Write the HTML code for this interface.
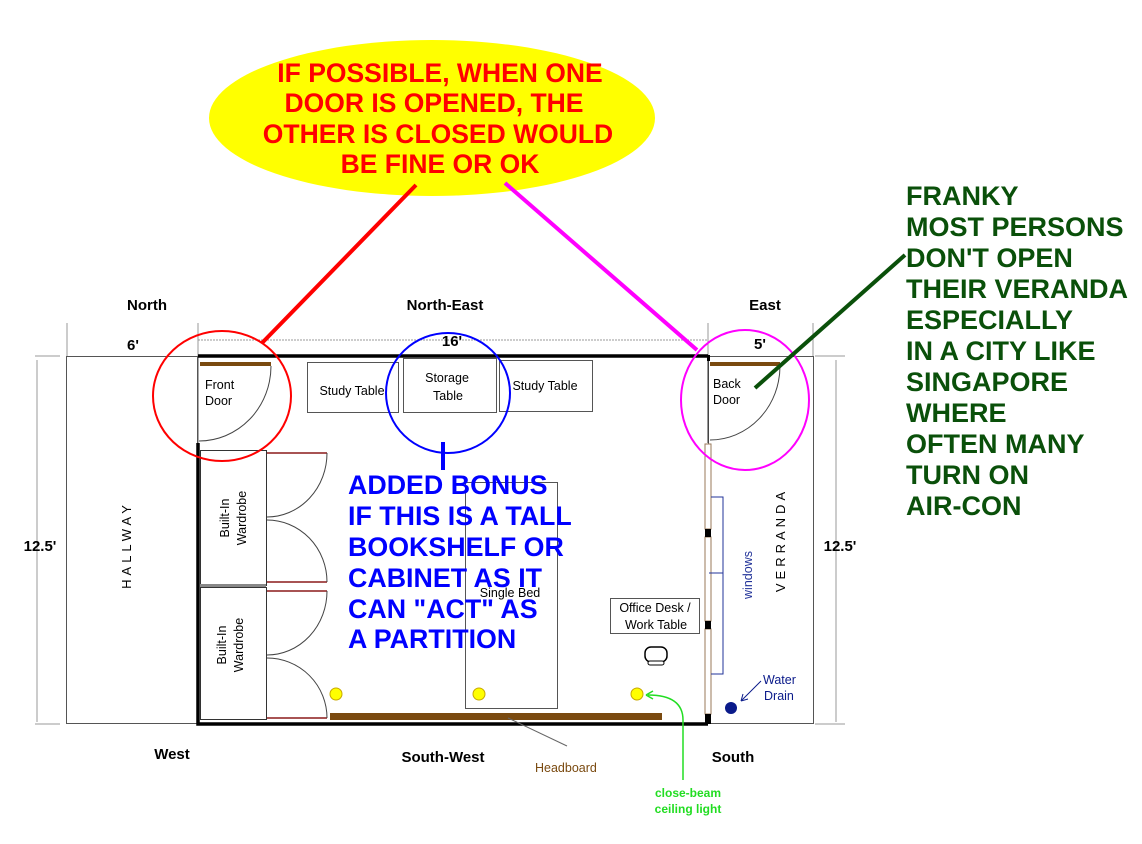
<!DOCTYPE html>
<html><head><meta charset="utf-8"><style>
html,body{margin:0;padding:0;background:#fff;}
svg{display:block;}
text{font-family:"Liberation Sans",Arial,sans-serif;}
</style></head><body>
<svg width="1142" height="844" viewBox="0 0 1142 844" xmlns="http://www.w3.org/2000/svg">
<rect width="1142" height="844" fill="#fff"/>
<ellipse cx="432" cy="118" rx="223" ry="78" fill="#ffff00"/>
<g fill="#ff0000" font-weight="bold" font-size="26.5" text-anchor="middle">
<text x="440" y="82">IF POSSIBLE, WHEN ONE</text>
<text x="434" y="112">DOOR IS OPENED, THE</text>
<text x="438" y="143">OTHER IS CLOSED WOULD</text>
<text x="440" y="173">BE FINE OR OK</text>
</g>
<g stroke="#999" stroke-width="1" fill="none">
<line x1="67" y1="323" x2="67" y2="356"/>
<line x1="198" y1="323" x2="198" y2="356"/>
<line x1="708" y1="323" x2="708" y2="356"/>
<line x1="813" y1="323" x2="813" y2="356"/>
<line x1="198" y1="340" x2="708" y2="340" stroke-dasharray="2,1"/>
<line x1="37" y1="360" x2="37" y2="722"/>
<line x1="35" y1="356" x2="60" y2="356"/>
<line x1="35" y1="724" x2="60" y2="724"/>
<line x1="836" y1="360" x2="836" y2="722"/>
<line x1="815" y1="356" x2="845" y2="356"/>
<line x1="815" y1="724" x2="845" y2="724"/>
</g>
<g stroke="#555" stroke-width="1" fill="none">
<rect x="66.5" y="356.5" width="131" height="367"/>
<rect x="708.5" y="356.5" width="105" height="367"/>
<line x1="198" y1="356" x2="198" y2="443"/>
</g>
<g stroke="#000" stroke-width="3.5" fill="none">
<polyline points="198,443 198,724 708,724"/>
<line x1="198" y1="356" x2="708" y2="356"/>
</g>
<rect x="200" y="362" width="71" height="4" fill="#7a4a10"/>
<path d="M271,366 A72,75 0 0 1 199,441" stroke="#444" fill="none"/>
<text x="205" y="389" font-size="12.5">Front</text>
<text x="205" y="405" font-size="12.5">Door</text>
<g stroke="#333" fill="none" stroke-width="1">
<rect x="200.5" y="450.5" width="66" height="135"/>
<rect x="200.5" y="587.5" width="66" height="132"/>
</g>
<rect x="200" y="584" width="66" height="3" fill="#888"/>
<g stroke="#8b1a1a" stroke-width="1.5">
<line x1="267" y1="453" x2="327" y2="453"/>
<line x1="267" y1="582" x2="327" y2="582"/>
<line x1="267" y1="591" x2="327" y2="591"/>
<line x1="267" y1="718" x2="327" y2="718"/>
</g>
<g stroke="#444" fill="none">
<path d="M327,453 A60,64 0 0 1 267,517"/>
<path d="M267,520 A60,62 0 0 1 327,582"/>
<path d="M327,591 A60,64 0 0 1 267,655"/>
<path d="M267,658 A60,60 0 0 1 327,718"/>
</g>
<g font-size="12.5" text-anchor="middle">
<text transform="translate(229,518) rotate(-90)">Built-In</text>
<text transform="translate(246,518) rotate(-90)">Wardrobe</text>
<text transform="translate(226,645) rotate(-90)">Built-In</text>
<text transform="translate(243,645) rotate(-90)">Wardrobe</text>
</g>
<text transform="translate(131,545) rotate(-90)" font-size="13" text-anchor="middle" letter-spacing="4">HALLWAY</text>
<g stroke="#555" fill="none">
<rect x="307.5" y="362.5" width="91" height="50"/>
<rect x="403.5" y="358.5" width="93" height="54"/>
<rect x="499.5" y="360.5" width="93" height="51"/>
<rect x="465.5" y="482.5" width="92" height="226"/>
<rect x="610.5" y="598.5" width="89" height="35"/>
</g>
<g font-size="12.5" text-anchor="middle">
<text x="352" y="395">Study Table</text>
<text x="447" y="382">Storage</text>
<text x="448" y="400">Table</text>
<text x="545" y="390">Study Table</text>
<text x="510" y="597">Single Bed</text>
<text x="655" y="612">Office Desk /</text>
<text x="656" y="629">Work Table</text>
</g>
<rect x="645" y="647" width="22" height="15" rx="6" stroke="#000" fill="#fff" stroke-width="1.5"/>
<rect x="648" y="661" width="16" height="4" rx="2" stroke="#000" fill="#fff"/>
<rect x="330" y="713" width="332" height="7" fill="#7a4a10"/>
<line x1="508" y1="718" x2="567" y2="746" stroke="#666"/>
<text x="535" y="772" font-size="12.5" fill="#7a4a10">Headboard</text>
<g fill="#ffff00" stroke="#c8a800">
<circle cx="336" cy="694" r="6"/>
<circle cx="479" cy="694" r="6"/>
<circle cx="637" cy="694" r="6"/>
</g>
<path d="M683,780 L683,720 Q683,695 648,695" stroke="#22dd22" stroke-width="1.5" fill="none"/>
<path d="M646,695 l7,-4 M646,695 l7,4" stroke="#22dd22" stroke-width="1.5"/>
<g fill="#22dd22" font-size="12" font-weight="bold" text-anchor="middle">
<text x="688" y="797">close-beam</text>
<text x="688" y="813">ceiling light</text>
</g>
<line x1="708" y1="356" x2="708" y2="443" stroke="#333"/>
<rect x="707" y="355" width="3" height="6" fill="#000"/>
<g fill="#fff" stroke="#9a7a5a">
<rect x="705" y="444" width="6" height="85"/>
<rect x="705" y="537" width="6" height="84"/>
<rect x="705" y="629" width="6" height="85"/>
</g>
<rect x="705" y="529" width="6" height="8" fill="#000"/>
<rect x="705" y="621" width="6" height="8" fill="#000"/>
<rect x="705" y="714" width="6" height="10" fill="#000"/>
<path d="M711,497 H723 V674 H711 M709,573 H723" stroke="#223399" fill="none"/>
<text transform="translate(752,575) rotate(-90)" font-size="12.5" fill="#223399" text-anchor="middle">windows</text>
<text transform="translate(785,540) rotate(-90)" font-size="13" text-anchor="middle" letter-spacing="4">VERRANDA</text>
<rect x="710" y="362" width="70" height="4" fill="#7a4a10"/>
<path d="M780,366 A70,74 0 0 1 710,440" stroke="#444" fill="none"/>
<text x="713" y="388" font-size="12.5">Back</text>
<text x="713" y="404" font-size="12.5">Door</text>
<circle cx="731" cy="708" r="6" fill="#0a1a8a"/>
<line x1="761" y1="681" x2="742" y2="700" stroke="#0a1a8a"/>
<path d="M741,701 l2,-7 M741,701 l7,-2" stroke="#0a1a8a"/>
<g fill="#0a1a8a" font-size="12.5"><text x="763" y="684">Water</text><text x="764" y="700">Drain</text></g>
<g font-weight="bold" font-size="15" text-anchor="middle">
<text x="147" y="310">North</text>
<text x="445" y="310">North-East</text>
<text x="765" y="310">East</text>
<text x="133" y="350">6'</text>
<text x="452" y="346">16'</text>
<text x="760" y="349">5'</text>
<text x="40" y="551">12.5'</text>
<text x="840" y="551">12.5'</text>
<text x="172" y="759">West</text>
<text x="443" y="762">South-West</text>
<text x="733" y="762">South</text>
</g>
<line x1="416" y1="185" x2="262" y2="343" stroke="#ff0000" stroke-width="4"/>
<ellipse cx="222" cy="396" rx="69" ry="65" stroke="#ff0000" stroke-width="2" fill="none"/>
<line x1="505" y1="183" x2="697" y2="350" stroke="#ff00ff" stroke-width="4"/>
<ellipse cx="745" cy="400" rx="64" ry="70" stroke="#ff00ff" stroke-width="2" fill="none"/>
<ellipse cx="448" cy="393" rx="62" ry="60" stroke="#0000ff" stroke-width="2" fill="none"/>
<line x1="443" y1="442" x2="443" y2="470" stroke="#0000ff" stroke-width="4"/>
<line x1="755" y1="388" x2="905" y2="255" stroke="#0a500a" stroke-width="4"/>
<g fill="#0000ff" font-weight="bold" font-size="26.8">
<text x="348" y="494">ADDED BONUS</text>
<text x="348" y="525">IF THIS IS A TALL</text>
<text x="348" y="556">BOOKSHELF OR</text>
<text x="348" y="587">CABINET AS IT</text>
<text x="348" y="618">CAN "ACT" AS</text>
<text x="348" y="648">A PARTITION</text>
</g>
<g fill="#0a500a" font-weight="bold" font-size="27">
<text x="906" y="205">FRANKY</text>
<text x="906" y="236">MOST PERSONS</text>
<text x="906" y="267">DON'T OPEN</text>
<text x="906" y="298">THEIR VERANDA</text>
<text x="906" y="329">ESPECIALLY</text>
<text x="906" y="360">IN A CITY LIKE</text>
<text x="906" y="391">SINGAPORE</text>
<text x="906" y="422">WHERE</text>
<text x="906" y="453">OFTEN MANY</text>
<text x="906" y="484">TURN ON</text>
<text x="906" y="515">AIR-CON</text>
</g>
</svg>
</body></html>
